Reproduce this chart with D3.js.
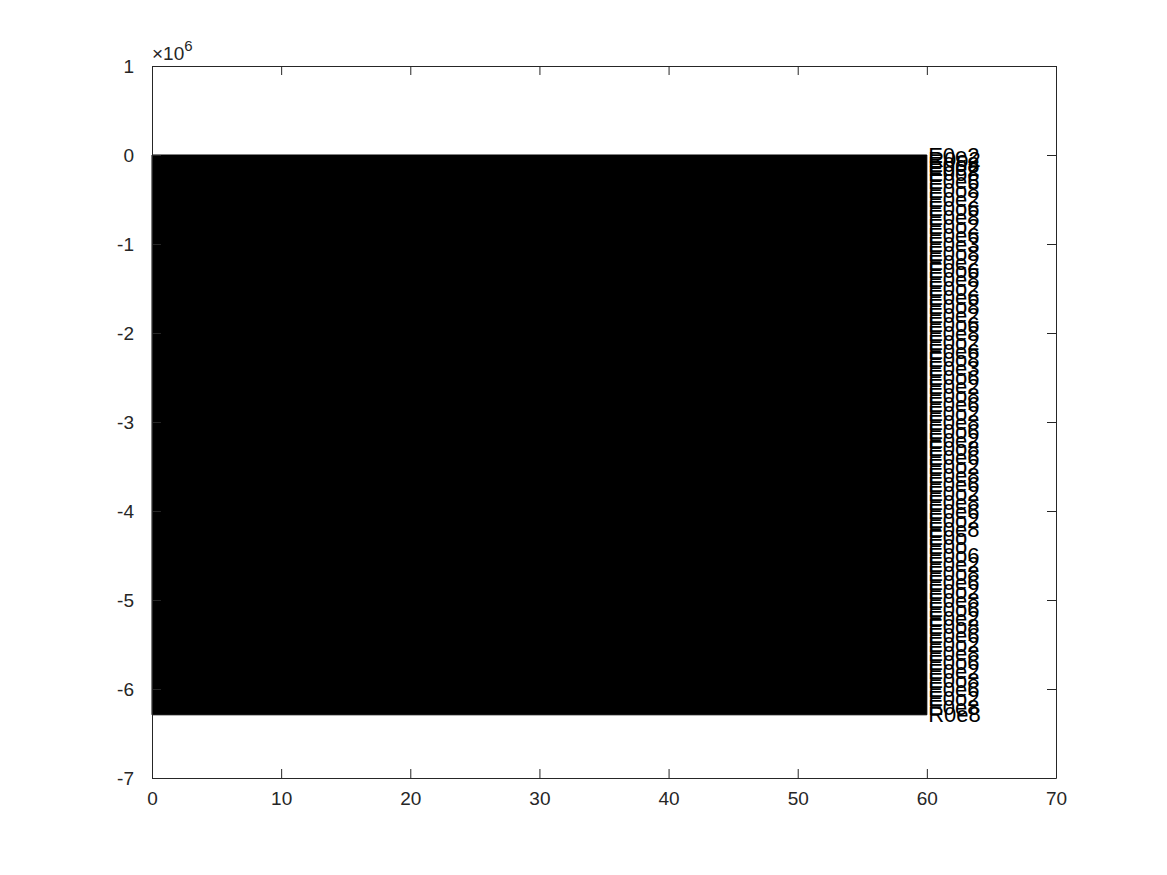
<!DOCTYPE html>
<html>
<head>
<meta charset="utf-8">
<script src="https://cdn.jsdelivr.net/npm/d3@7"></script>
<style>
  body { margin: 0; background: #fff; }
  text { font-family: "Liberation Sans", Arial, sans-serif; }
</style>
</head>
<body>
<div id="chart"></div>
<script>
// data (y values in units of 1e6)
var xTicks = [0, 10, 20, 30, 40, 50, 60, 70];
var yTicks = [1, 0, -1, -2, -3, -4, -5, -6, -7];

// dense signal envelope: x from 0 to 60, swinging between 0 and -6.29
var bandX = [0, 60];
var bandTop = [0, 0];
var bandBottom = [-6.29, -6.29];

// overlapping text labels stacked at x = 60.1
var labelY = [0, -0.05, -0.1, -0.15, -0.2, -0.3, -0.4, -0.5, -0.6, -0.7, -0.8, -0.9,
    -1.0, -1.1, -1.2, -1.3, -1.4, -1.5, -1.6, -1.7, -1.8, -1.9,
    -2.0, -2.1, -2.2, -2.3, -2.4, -2.5, -2.6, -2.7, -2.8, -2.9,
    -3.0, -3.1, -3.2, -3.3, -3.4, -3.5, -3.6, -3.7, -3.8, -3.9,
    -4.0, -4.1, -4.2, -4.3, -4.4, -4.5, -4.6, -4.7, -4.8, -4.9,
    -5.0, -5.1, -5.2, -5.3, -5.4, -5.5, -5.6, -5.7, -5.8, -5.9,
    -6.0, -6.1, -6.2, -6.28];
var labelText = ["E0e2", "R0o2", "E0o8", "E0e2", "E0o8", "E0e6", "E0o8", "E0e2", "E0o6", "E0e8", "E0o2", "E0e6",
    "E0e3", "E0o8", "E0e2", "E0o6", "E0e8", "E0o2", "E0e6", "E0o8", "E0e2", "E0o6",
    "E0e8", "E0o2", "E0e6", "E0o8", "E0e3", "E0o6", "E0e2", "E0o8", "E0e6", "E0o2",
    "E0e8", "E0o6", "E0e2", "E0o8", "E0e6", "E0o2", "E0e8", "E0e6", "E0o2", "E0e8",
    "E0e6", "E0o2", "E0e8", "E0o", "E0o", "E0o6", "E0e2", "E0o8", "E0e6", "E0o2",
    "E0e8", "E0o6", "E0e2", "E0o8", "E0e6", "E0o2", "E0e8", "E0o6", "E0e2", "E0o8",
    "E0e6", "E0o2", "E0e8", "R0e8"];

var svgWidth = 1167;
var svgHeight = 875;

var margin = { top: 66, bottom: 97, left: 152, right: 111 };
var width = svgWidth - margin.left - margin.right;
var height = svgHeight - margin.top - margin.bottom;

var svg = d3.select("#chart")
    .append("svg")
    .attr("width", svgWidth)
    .attr("height", svgHeight);

var chartGroup = svg.append("g")
    .attr("transform", `translate(${margin.left}, ${margin.top})`);

var xScale = d3.scaleLinear().domain([0, 70]).range([0, width]);
var yScale = d3.scaleLinear().domain([-7, 1]).range([height, 0]);

//black band
var band = bandX.map(function (x, i) {
    return { x: x, top: bandTop[i], bottom: bandBottom[i] };
});
var area = d3.area()
    .x(d => xScale(d.x))
    .y0(d => yScale(d.bottom))
    .y1(d => yScale(d.top));
chartGroup.append("path")
    .datum(band)
    .attr("d", area)
    .attr("fill", "#000")
    .attr("stroke", "#000")
    .attr("stroke-width", 1);

//labels
chartGroup.selectAll(".lbl")
    .data(labelY)
    .enter()
    .append("text")
    .attr("class", "lbl")
    .attr("x", xScale(60.1))
    .attr("y", d => yScale(d))
    .attr("dy", "0.35em")
    .attr("font-size", 22)
    .attr("fill", "#000")
    .text((d, i) => labelText[i]);

//axes (MATLAB box with inward ticks)
var tickLen = 9;
var fmt = d => String(d);
var xAxisB = d3.axisBottom(xScale).tickValues(xTicks).tickSizeInner(-tickLen).tickSizeOuter(0).tickPadding(14).tickFormat(fmt);
var xAxisT = d3.axisTop(xScale).tickValues(xTicks).tickSizeInner(-tickLen).tickSizeOuter(0).tickFormat("");
var yAxisL = d3.axisLeft(yScale).tickValues(yTicks).tickSizeInner(-tickLen).tickSizeOuter(0).tickPadding(18).tickFormat(fmt);
var yAxisR = d3.axisRight(yScale).tickValues(yTicks).tickSizeInner(-tickLen).tickSizeOuter(0).tickFormat("");

function styleAxis(g) {
    g.selectAll("path").attr("stroke", "#262626").attr("stroke-width", 1);
    g.selectAll("line").attr("stroke", "#262626").attr("stroke-width", 1);
    g.selectAll("text").attr("font-size", 19).attr("fill", "#262626")
        .attr("font-family", "'Liberation Sans', Arial, sans-serif");
}

chartGroup.append("g").attr("transform", `translate(0, ${height})`).call(xAxisB).call(styleAxis);
chartGroup.append("g").call(xAxisT).call(styleAxis);
chartGroup.append("g").call(yAxisL).call(styleAxis);
chartGroup.append("g").attr("transform", `translate(${width}, 0)`).call(yAxisR).call(styleAxis);

//exponent label
var expo = chartGroup.append("text")
    .attr("x", 0)
    .attr("y", -6)
    .attr("font-size", 19)
    .attr("fill", "#262626");
expo.append("tspan").text("\u00d710");
expo.append("tspan").attr("dy", -9).attr("font-size", 15).text("6");
</script>
</body>
</html>
